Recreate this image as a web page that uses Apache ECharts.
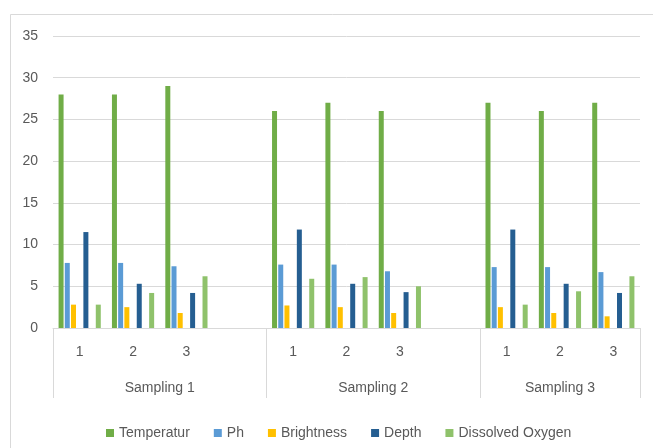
<!DOCTYPE html>
<html>
<head>
<meta charset="utf-8">
<script src="https://cdn.jsdelivr.net/npm/echarts@6/dist/echarts.min.js"></script>
<style>
  html, body { margin: 0; padding: 0; background: #fff; }
  #chart { width: 653px; height: 448px; }
</style>
</head>
<body>
<div id="chart"></div>
<script>
// Water quality readings: three samples in each of three sampling rounds
const groups = ['Sampling 1', 'Sampling 2', 'Sampling 3'];
const sampleLabels = ['1', '2', '3'];

const temperatur = [28, 28, 29, 26, 27, 26, 27, 26, 27];
const ph         = [7.8, 7.8, 7.4, 7.6, 7.6, 6.8, 7.3, 7.3, 6.7];
const brightness = [2.8, 2.5, 1.8, 2.7, 2.5, 1.8, 2.5, 1.8, 1.4];
const depth      = [11.5, 5.3, 4.2, 11.8, 5.3, 4.3, 11.8, 5.3, 4.2];
const dissolved  = [2.8, 4.2, 6.2, 5.9, 6.1, 5.0, 2.8, 4.4, 6.2];

const yTicks = [0, 5, 10, 15, 20, 25, 30, 35];

// Each round gets a blank slot after it, except the last one
const categories = [];
const groupStart = [];
const groupMid = [];
groups.forEach((g, gi) => {
  groupStart.push(categories.length);
  sampleLabels.forEach(s => categories.push(s));
  const span = sampleLabels.length + (gi < groups.length - 1 ? 1 : 0);
  groupMid.push(groupStart[gi] + span / 2);
  if (gi < groups.length - 1) categories.push('');
});
const groupEdges = groupStart.concat([categories.length]);

function spread(values) {
  const out = [];
  let k = 0;
  groups.forEach((g, gi) => {
    sampleLabels.forEach(() => out.push(values[k++]));
    if (gi < groups.length - 1) out.push(null);
  });
  return out;
}

const textColor = '#595959';
const lineColor = '#D9D9D9';
const font = 'Liberation Sans, Arial, sans-serif';

const seriesDefs = [
  { name: 'Temperatur', values: temperatur, color: '#70AD47' },
  { name: 'Ph', values: ph, color: '#5B9BD5' },
  { name: 'Brightness', values: brightness, color: '#FFC000' },
  { name: '_blankA', values: null, color: '#ffffff' },
  { name: 'Depth', values: depth, color: '#255E91' },
  { name: '_blankB', values: null, color: '#ffffff' },
  { name: 'Dissolved Oxygen', values: dissolved, color: '#8FC26B' }
];

const chart = echarts.init(document.getElementById('chart'), null, { renderer: 'canvas' });

chart.setOption({
  animation: false,
  backgroundColor: '#ffffff',
  textStyle: { fontFamily: font },
  graphic: [{
    type: 'rect',
    shape: { x: 10.5, y: 14.5, width: 700, height: 500 },
    style: { fill: 'none', stroke: lineColor, lineWidth: 1 },
    silent: true,
    z: -1
  }],
  grid: { left: 53, right: 13, top: 36, bottom: 120, containLabel: false },
  legend: {
    data: seriesDefs.filter(s => s.values).map(s => s.name),
    left: 101,
    top: 421,
    icon: 'rect',
    itemWidth: 8,
    itemHeight: 8,
    itemGap: 24,
    textStyle: { color: textColor, fontSize: 14, fontFamily: font }
  },
  xAxis: [{
    type: 'category',
    data: categories,
    axisLine: { show: true, lineStyle: { color: lineColor } },
    axisTick: { show: false },
    axisLabel: { color: textColor, fontSize: 14, margin: 17, interval: 0, fontFamily: font },
    splitLine: { show: false }
  }, {
    type: 'value',
    min: 0,
    max: categories.length,
    position: 'bottom',
    axisLine: { show: false },
    axisTick: {
      show: true,
      customValues: groupEdges,
      length: 70,
      lineStyle: { color: lineColor }
    },
    axisLabel: {
      show: true,
      customValues: groupMid,
      formatter: v => {
        const i = groupMid.indexOf(v);
        return i >= 0 ? groups[i] : '';
      },
      color: textColor,
      fontSize: 14,
      margin: 53,
      fontFamily: font
    },
    splitLine: { show: false }
  }],
  yAxis: {
    type: 'value',
    min: yTicks[0],
    max: yTicks[yTicks.length - 1],
    interval: yTicks[1] - yTicks[0],
    axisLine: { show: false },
    axisTick: { show: false },
    axisLabel: { color: textColor, fontSize: 14, margin: 15, fontFamily: font },
    splitLine: { lineStyle: { color: lineColor } }
  },
  series: seriesDefs.map(s => ({
    name: s.name,
    type: 'bar',
    xAxisIndex: 0,
    data: s.values ? spread(s.values) : [],
    barWidth: 5,
    barGap: '24%',
    itemStyle: { color: s.color },
    silent: true
  }))
});
</script>
</body>
</html>
